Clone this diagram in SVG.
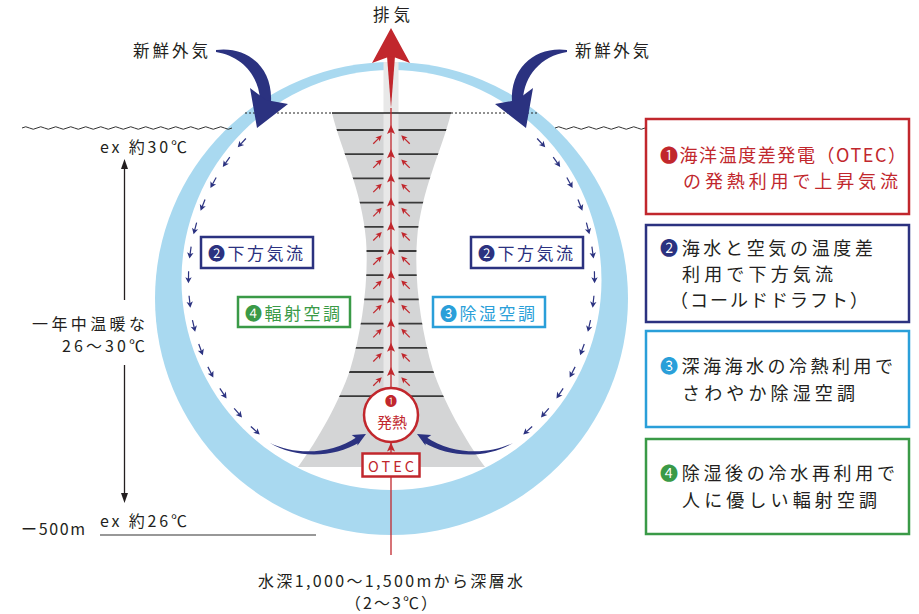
<svg xmlns="http://www.w3.org/2000/svg" xmlns:xlink="http://www.w3.org/1999/xlink" width="919" height="614" viewBox="0 0 919 614">
<style>
text{font-family:"Noto Sans CJK JP","Noto Sans",sans-serif;fill:#231f20}
.t16{font-size:16px}
.t17{font-size:17px}
.t18{font-size:18px}
.red{fill:#c1272d}
.navy{fill:#2b3280}
.cyan{fill:#2a9fd9}
.green{fill:#3a9a47}
.sa{stroke:#2b3280;stroke-width:1.2;fill:none}
.box{fill:#fff;stroke-width:2.5}
</style>
<defs>
<g id="sarrow"><line x1="-6" y1="0" x2="2" y2="0" class="sa"/><path d="M6,0 L0,-3.2 L1.5,0 L0,3.2Z" fill="#2b3280"/></g>
<g id="rdarrow"><line x1="-6" y1="0" x2="2" y2="0" stroke="#c1272d" stroke-width="1.2"/><path d="M6,0 L0,-3 L1.5,0 L0,3Z" fill="#c1272d"/></g>
<path id="rhead" d="M0,0 L4,9 L0,7 L-4,9Z" fill="#c1272d"/>
<clipPath id="towerclip"><path d="M332,113 C341,150 362,190 366,240 C369,280 362,330 350,370 C340,400 318,440 298,467 L485,467 C465,440 443,400 433,370 C421,330 414,280 417,240 C421,190 442,150 451,113 Z"/></clipPath>
<g id="bigarrow" fill="#2b3280"><path d="M216,50 C246,46 273,66 271,102 L260,100 C259,76 242,56 216,52 Z"/><path d="M250,88 L266,100 L288,104 L257,128 Z"/></g>
<g id="botarrow" fill="#2b3280"><path d="M270,443 C295,455 330,455 357,437 L360,442 C332,459 295,458 270,443 Z"/><path d="M366,434 L351.7,435 L357.2,438.9 L357.5,445.6 Z"/></g>
</defs>

<g id="ring">
<circle cx="391.5" cy="298.5" r="236.5" fill="#a9d9f0"/>
<circle cx="391.5" cy="280" r="210" fill="#fff"/>
</g>

<g id="tower">
<rect x="383.5" y="62" width="15" height="51" fill="#e8e8e8"/>
<path d="M332,113 C341,150 362,190 366,240 C369,280 362,330 350,370 C340,400 318,440 298,467 L485,467 C465,440 443,400 433,370 C421,330 414,280 417,240 C421,190 442,150 451,113 Z" fill="#d4d5d6"/>
<g clip-path="url(#towerclip)" stroke="#3a3a3a" stroke-width="1.8">
<line x1="300" y1="130" x2="490" y2="130"/>
<line x1="300" y1="154.2" x2="490" y2="154.2"/>
<line x1="300" y1="178.4" x2="490" y2="178.4"/>
<line x1="300" y1="202.6" x2="490" y2="202.6"/>
<line x1="300" y1="226.8" x2="490" y2="226.8"/>
<line x1="300" y1="251" x2="490" y2="251"/>
<line x1="300" y1="275.2" x2="490" y2="275.2"/>
<line x1="300" y1="299.4" x2="490" y2="299.4"/>
<line x1="300" y1="323.6" x2="490" y2="323.6"/>
<line x1="300" y1="347.8" x2="490" y2="347.8"/>
<line x1="300" y1="372" x2="490" y2="372"/>
<line x1="300" y1="396.2" x2="490" y2="396.2"/>
</g>
<rect x="383.5" y="113" width="15" height="280" fill="#e8e8e8"/>
<line x1="332" y1="113" x2="451" y2="113" stroke="#222" stroke-width="1.5"/>
</g>

<g id="surface">
<line x1="245" y1="113" x2="332" y2="113" stroke="#222" stroke-width="1" stroke-dasharray="2,2"/>
<line x1="451" y1="113" x2="538" y2="113" stroke="#222" stroke-width="1" stroke-dasharray="2,2"/>
<path d="M22,128 q3.75,-2.5 7.5,0 t7.5,0 t7.5,0 t7.5,0 t7.5,0 t7.5,0 t7.5,0 t7.5,0 t7.5,0 t7.5,0 t7.5,0 t7.5,0 t7.5,0 t7.5,0 t7.5,0 t7.5,0 t7.5,0 t7.5,0 t7.5,0 t7.5,0 t7.5,0 t7.5,0 t7.5,0 t7.5,0 t7.5,0 t7.5,0 t7.5,0 t7.5,0" fill="none" stroke="#333" stroke-width="1"/>
<path d="M555,128 q3.75,-2.5 7.5,0 t7.5,0 t7.5,0 t7.5,0 t7.5,0 t7.5,0 t7.5,0 t7.5,0 t7.5,0 t7.5,0 t7.5,0 t7.5,0" fill="none" stroke="#333" stroke-width="1"/>
</g>

<g id="connectors">
<line x1="391" y1="555" x2="391" y2="108" stroke="#c1272d" stroke-width="1.3"/>
<path d="M387,56 L395,56 L391,108 Z" fill="#c1272d"/>
<path d="M391,28 L410,63 L391,56 L372,63 Z" fill="#c1272d"/>
<g id="centerheads">
<use xlink:href="#rhead" transform="translate(391,125)"/>
<use xlink:href="#rhead" transform="translate(391,149.2)"/>
<use xlink:href="#rhead" transform="translate(391,173.4)"/>
<use xlink:href="#rhead" transform="translate(391,197.6)"/>
<use xlink:href="#rhead" transform="translate(391,221.8)"/>
<use xlink:href="#rhead" transform="translate(391,246)"/>
<use xlink:href="#rhead" transform="translate(391,270.2)"/>
<use xlink:href="#rhead" transform="translate(391,294.4)"/>
<use xlink:href="#rhead" transform="translate(391,318.6)"/>
<use xlink:href="#rhead" transform="translate(391,342.8)"/>
<use xlink:href="#rhead" transform="translate(391,367)"/>
<use xlink:href="#rhead" transform="translate(391,442.5)"/>
</g>
<g id="diagarrows">
<use xlink:href="#rdarrow" transform="translate(377.5,139.5) rotate(-45)"/>
<use xlink:href="#rdarrow" transform="translate(377.5,163.7) rotate(-45)"/>
<use xlink:href="#rdarrow" transform="translate(377.5,187.9) rotate(-45)"/>
<use xlink:href="#rdarrow" transform="translate(377.5,212.1) rotate(-45)"/>
<use xlink:href="#rdarrow" transform="translate(377.5,236.3) rotate(-45)"/>
<use xlink:href="#rdarrow" transform="translate(377.5,260.5) rotate(-45)"/>
<use xlink:href="#rdarrow" transform="translate(377.5,284.7) rotate(-45)"/>
<use xlink:href="#rdarrow" transform="translate(377.5,308.9) rotate(-45)"/>
<use xlink:href="#rdarrow" transform="translate(377.5,333.1) rotate(-45)"/>
<use xlink:href="#rdarrow" transform="translate(377.5,357.3) rotate(-45)"/>
<use xlink:href="#rdarrow" transform="translate(377.5,381.5) rotate(-45)"/>
<use xlink:href="#rdarrow" transform="translate(405.5,139.5) rotate(-135)"/>
<use xlink:href="#rdarrow" transform="translate(405.5,163.7) rotate(-135)"/>
<use xlink:href="#rdarrow" transform="translate(405.5,187.9) rotate(-135)"/>
<use xlink:href="#rdarrow" transform="translate(405.5,212.1) rotate(-135)"/>
<use xlink:href="#rdarrow" transform="translate(405.5,236.3) rotate(-135)"/>
<use xlink:href="#rdarrow" transform="translate(405.5,260.5) rotate(-135)"/>
<use xlink:href="#rdarrow" transform="translate(405.5,284.7) rotate(-135)"/>
<use xlink:href="#rdarrow" transform="translate(405.5,308.9) rotate(-135)"/>
<use xlink:href="#rdarrow" transform="translate(405.5,333.1) rotate(-135)"/>
<use xlink:href="#rdarrow" transform="translate(405.5,357.3) rotate(-135)"/>
<use xlink:href="#rdarrow" transform="translate(405.5,381.5) rotate(-135)"/>
</g>
<use xlink:href="#bigarrow"/>
<use xlink:href="#bigarrow" transform="translate(783,0) scale(-1,1)"/>
<g id="downflow">
<use xlink:href="#sarrow" transform="translate(241.8,142.9) rotate(132.5)"/>
<use xlink:href="#sarrow" transform="translate(226.3,162) rotate(125.55)"/>
<use xlink:href="#sarrow" transform="translate(213.3,182.8) rotate(118.6)"/>
<use xlink:href="#sarrow" transform="translate(202.8,205.1) rotate(111.65)"/>
<use xlink:href="#sarrow" transform="translate(195.1,228.5) rotate(104.7)"/>
<use xlink:href="#sarrow" transform="translate(190.3,252.6) rotate(97.75)"/>
<use xlink:href="#sarrow" transform="translate(188.5,277.2) rotate(90.8)"/>
<use xlink:href="#sarrow" transform="translate(189.7,301.7) rotate(83.85)"/>
<use xlink:href="#sarrow" transform="translate(193.8,326) rotate(76.9)"/>
<use xlink:href="#sarrow" transform="translate(200.8,349.6) rotate(69.95)"/>
<use xlink:href="#sarrow" transform="translate(210.6,372.2) rotate(63)"/>
<use xlink:href="#sarrow" transform="translate(223.2,393.4) rotate(56.05)"/>
<use xlink:href="#sarrow" transform="translate(238.1,412.9) rotate(49.1)"/>
<use xlink:href="#sarrow" transform="translate(255.3,430.5) rotate(42.15)"/>
</g>
<use xlink:href="#downflow" transform="translate(783,0) scale(-1,1)"/>
<use xlink:href="#botarrow"/>
<use xlink:href="#botarrow" transform="translate(783,0) scale(-1,1)"/>
<line x1="124.5" y1="168" x2="124.5" y2="300" stroke="#231f20" stroke-width="1.3"/>
<path d="M124.5,159 L128,169 L121,169 Z" fill="#231f20"/>
<line x1="124.5" y1="365" x2="124.5" y2="495" stroke="#231f20" stroke-width="1.3"/>
<path d="M124.5,503 L128,493 L121,493 Z" fill="#231f20"/>
<line x1="100" y1="535" x2="316" y2="535" stroke="#333" stroke-width="1.2"/>
</g>

<g id="node-heat">
<circle cx="391" cy="415" r="27" fill="#fff" stroke="#c1272d" stroke-width="2.5"/>
<text x="391" y="405.5" font-size="12" text-anchor="middle" class="red">❶</text>
<text x="392" y="428" font-size="15" class="red" text-anchor="middle">発熱</text>
</g>
<g id="node-otec">
<rect x="362.5" y="453.5" width="57" height="23" class="box" stroke="#c1272d" stroke-width="2"/>
<text x="391" y="472" font-size="14.5" text-anchor="middle" class="red" textLength="46" lengthAdjust="spacing">OTEC</text>
</g>

<g id="label-down-left">
<rect x="201" y="237" width="112" height="31" class="box" stroke="#2b3280"/>
<text x="208" y="260" class="t17 navy" textLength="95" lengthAdjust="spacing">❷下方気流</text>
</g>
<g id="label-down-right">
<rect x="471" y="237" width="112" height="31" class="box" stroke="#2b3280"/>
<text x="478" y="260" class="t17 navy" textLength="95" lengthAdjust="spacing">❷下方気流</text>
</g>
<g id="label-radiant">
<rect x="238" y="297" width="112" height="30" class="box" stroke="#3a9a47"/>
<text x="245" y="320" class="t17 green" textLength="95" lengthAdjust="spacing">❹輻射空調</text>
</g>
<g id="label-dehumid">
<rect x="433" y="297" width="112" height="30" class="box" stroke="#2a9fd9"/>
<text x="440" y="320" class="t17 cyan" textLength="95" lengthAdjust="spacing">❸除湿空調</text>
</g>

<g id="texts">
<text x="133" y="57" font-size="16.5" textLength="75" lengthAdjust="spacing">新鮮外気</text>
<text x="575" y="57" font-size="16.5" textLength="74" lengthAdjust="spacing">新鮮外気</text>
<text x="373" y="21" font-size="16.5" textLength="37" lengthAdjust="spacing">排気</text>
<text x="100" y="153" class="t16" textLength="87" lengthAdjust="spacing">ex 約30℃</text>
<text x="32" y="330" class="t16" textLength="113" lengthAdjust="spacing">一年中温暖な</text>
<text x="62" y="352" class="t16" textLength="83" lengthAdjust="spacing">26〜30℃</text>
<text x="100" y="527" class="t16" textLength="87" lengthAdjust="spacing">ex 約26℃</text>
<text x="21" y="535" class="t16" textLength="64" lengthAdjust="spacing">ー500m</text>
<text x="258" y="587" class="t16" textLength="265" lengthAdjust="spacing">水深1,000〜1,500mから深層水</text>
<text x="345" y="609" class="t16" textLength="92" lengthAdjust="spacing">（2〜3℃）</text>
</g>

<g id="box1">
<rect x="646" y="119" width="263" height="95" class="box" stroke="#c1272d"/>
<text x="660" y="162" class="t18 red" textLength="246" lengthAdjust="spacing">❶海洋温度差発電（OTEC）</text>
<text x="683" y="188" class="t18 red" textLength="215" lengthAdjust="spacing">の発熱利用で上昇気流</text>
</g>
<g id="box2">
<rect x="646" y="225" width="263" height="97" class="box" stroke="#2b3280"/>
<text x="660" y="255" class="t18" textLength="213" lengthAdjust="spacing"><tspan class="navy">❷</tspan>海水と空気の温度差</text>
<text x="682" y="281" class="t18" textLength="151" lengthAdjust="spacing">利用で下方気流</text>
<text x="670" y="307" class="t18" textLength="198" lengthAdjust="spacing">（コールドドラフト）</text>
</g>
<g id="box3">
<rect x="646" y="331" width="263" height="96" class="box" stroke="#2a9fd9"/>
<text x="660" y="373" class="t18" textLength="233" lengthAdjust="spacing"><tspan class="cyan">❸</tspan>深海海水の冷熱利用で</text>
<text x="682" y="400" class="t18" textLength="173" lengthAdjust="spacing">さわやか除湿空調</text>
</g>
<g id="box4">
<rect x="646" y="439" width="263" height="95" class="box" stroke="#3a9a47"/>
<text x="660" y="480" class="t18" textLength="235" lengthAdjust="spacing"><tspan class="green">❹</tspan>除湿後の冷水再利用で</text>
<text x="682" y="507" class="t18" textLength="195" lengthAdjust="spacing">人に優しい輻射空調</text>
</g>
</svg>
